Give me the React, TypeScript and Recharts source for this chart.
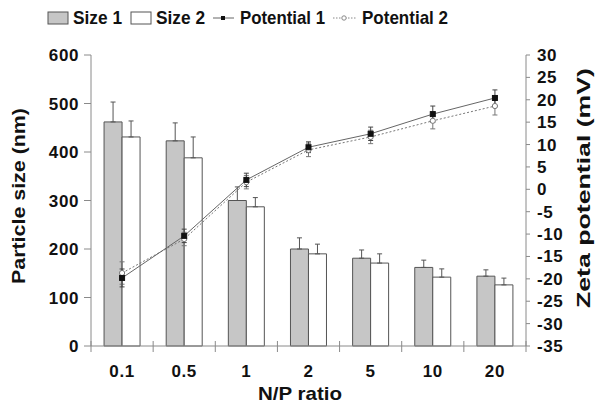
import React from 'react';
import { ComposedChart, Bar, Line, XAxis, YAxis, ErrorBar } from 'recharts';

const categories = ['0.1', '0.5', '1', '2', '5', '10', '20'];
const size1 = [462, 423, 300, 200, 181, 162, 144];
const size1Err = [41, 37, 28, 23, 17, 15, 13];
const size2 = [431, 388, 287, 190, 171, 142, 126];
const size2Err = [33, 43, 19, 20, 19, 17, 14];
const potential1 = [-19.8, -10.4, 2.1, 9.4, 12.4, 16.8, 20.4];
const potential1Err = [2.0, 1.5, 1.5, 1.2, 1.5, 1.8, 1.8];
const potential2 = [-18.7, -11.1, 1.6, 8.8, 11.7, 15.3, 18.6];
const potential2Err = [2.5, 1.5, 1.5, 1.5, 1.5, 1.8, 2.0];
const leftTicks = [0, 100, 200, 300, 400, 500, 600];
const rightTicks = [-35, -30, -25, -20, -15, -10, -5, 0, 5, 10, 15, 20, 25, 30];

const data = categories.map((c, i) => ({
  cat: c,
  size1: size1[i],
  size1Err: [0, size1Err[i]],
  size2: size2[i],
  size2Err: [0, size2Err[i]],
  p1: potential1[i],
  p1Err: potential1Err[i],
  p2: potential2[i],
  p2Err: potential2Err[i],
}));

const W = 595;
const H = 414;
const PLOT_LEFT = 91;
const PLOT_RIGHT = 526;
const PLOT_TOP = 55;
const PLOT_BOTTOM = 346;
const AXIS_COLOR = '#8a8a8a';
const FONT = '"Liberation Sans", Arial, Helvetica, sans-serif';

const XTick = (props: any) => {
  const { x, y, payload, index } = props;
  const band = (PLOT_RIGHT - PLOT_LEFT) / categories.length;
  return (
    <g>
      <line x1={x - band / 2} x2={x - band / 2} y1={y - 5} y2={y + 6} stroke={AXIS_COLOR} strokeWidth={1} />
      {index === categories.length - 1 && (
        <line x1={x + band / 2} x2={x + band / 2} y1={y - 5} y2={y + 6} stroke={AXIS_COLOR} strokeWidth={1} />
      )}
      <text x={x} y={y + 31} textAnchor="middle" fontSize={17} fontWeight="bold" fill="#111" fontFamily={FONT} letterSpacing={0.6}>
        {payload.value}
      </text>
    </g>
  );
};

const SquareDot = (props: any) => {
  const { cx, cy } = props;
  if (cx == null || cy == null) return null;
  return <rect x={cx - 2.5} y={cy - 2.5} width={5} height={5} fill="#111" stroke="#111" />;
};

const CircleDot = (props: any) => {
  const { cx, cy } = props;
  if (cx == null || cy == null) return null;
  return <circle cx={cx} cy={cy} r={2.6} fill="#fff" stroke="#777" strokeWidth={1} />;
};

const tickStyle = { fontSize: 17, fontWeight: 'bold', fill: '#111', fontFamily: FONT, letterSpacing: 0.6 };

export default function App() {
  return (
    <div style={{ position: 'absolute', left: 0, top: 0, width: W, height: H, background: '#fff' }}>
      <ComposedChart
        width={W}
        height={H}
        data={data}
        margin={{ top: PLOT_TOP, right: W - PLOT_RIGHT - 60, bottom: H - PLOT_BOTTOM - 30, left: PLOT_LEFT - 60 }}
        barCategoryGap="21%"
        barGap={0}
        style={{ fontFamily: FONT }}
      >
        <XAxis
          dataKey="cat"
          height={30}
          tickLine={false}
          tickSize={0}
          tickMargin={0}
          tick={<XTick />}
          axisLine={{ stroke: AXIS_COLOR }}
          interval={0}
        />
        <YAxis
          yAxisId="left"
          width={60}
          domain={[0, 600]}
          ticks={leftTicks}
          tickSize={7}
          tickMargin={5}
          tick={tickStyle}
          axisLine={{ stroke: AXIS_COLOR }}
          tickLine={{ stroke: AXIS_COLOR }}
          interval={0}
        />
        <YAxis
          yAxisId="right"
          orientation="right"
          width={60}
          domain={[-35, 30]}
          ticks={rightTicks}
          tickSize={4}
          tickMargin={7}
          tick={tickStyle}
          axisLine={{ stroke: AXIS_COLOR }}
          tickLine={{ stroke: AXIS_COLOR }}
          interval={0}
        />
        <Bar yAxisId="left" dataKey="size1" fill="#c6c6c6" stroke="#555" strokeWidth={1} isAnimationActive={false}>
          <ErrorBar dataKey="size1Err" width={2.5} stroke="#555" strokeWidth={1} direction="y" />
        </Bar>
        <Bar yAxisId="left" dataKey="size2" fill="#ffffff" stroke="#555" strokeWidth={1} isAnimationActive={false}>
          <ErrorBar dataKey="size2Err" width={2.5} stroke="#555" strokeWidth={1} direction="y" />
        </Bar>
        <Line
          yAxisId="right"
          dataKey="p2"
          stroke="#777"
          strokeWidth={1}
          strokeDasharray="2 2"
          dot={<CircleDot />}
          isAnimationActive={false}
        >
          <ErrorBar dataKey="p2Err" width={2.5} stroke="#777" strokeWidth={1} direction="y" />
        </Line>
        <Line
          yAxisId="right"
          dataKey="p1"
          stroke="#666"
          strokeWidth={1}
          dot={<SquareDot />}
          isAnimationActive={false}
        >
          <ErrorBar dataKey="p1Err" width={2.5} stroke="#444" strokeWidth={1} direction="y" />
        </Line>
      </ComposedChart>
      <svg width={W} height={H} style={{ position: 'absolute', left: 0, top: 0, pointerEvents: 'none' }}>
        <g fontFamily={FONT} fontWeight="bold" fill="#111">
          <rect x={48} y={12} width={20} height={12} fill="#c6c6c6" stroke="#555" />
          <text x={73} y={24} fontSize={19} textLength={49} lengthAdjust="spacingAndGlyphs">Size 1</text>
          <rect x={131} y={12} width={20} height={12} fill="#fff" stroke="#555" />
          <text x={156} y={24} fontSize={19} textLength={49} lengthAdjust="spacingAndGlyphs">Size 2</text>
          <line x1={213} x2={234} y1={18} y2={18} stroke="#666" />
          <rect x={221} y={16} width={4} height={4} fill="#111" />
          <text x={240} y={24} fontSize={19} textLength={85} lengthAdjust="spacingAndGlyphs">Potential 1</text>
          <line x1={333} x2={356} y1={18} y2={18} stroke="#888" strokeDasharray="1.5 1.5" />
          <circle cx={344} cy={18} r={2.2} fill="#fff" stroke="#888" />
          <text x={362} y={24} fontSize={19} textLength={86} lengthAdjust="spacingAndGlyphs">Potential 2</text>
          <text x={300} y={400} fontSize={19} textAnchor="middle" textLength={84} lengthAdjust="spacingAndGlyphs">N/P ratio</text>
          <text
            x={25}
            y={196}
            fontSize={18}
            textAnchor="middle"
            transform="rotate(-90, 25, 196)"
            textLength={176}
            lengthAdjust="spacingAndGlyphs"
          >
            Particle size (nm)
          </text>
          <text
            x={590}
            y={188}
            fontSize={18}
            textAnchor="middle"
            transform="rotate(-90, 590, 188)"
            textLength={240}
            lengthAdjust="spacingAndGlyphs"
          >
            Zeta potential (mV)
          </text>
        </g>
      </svg>
    </div>
  );
}
